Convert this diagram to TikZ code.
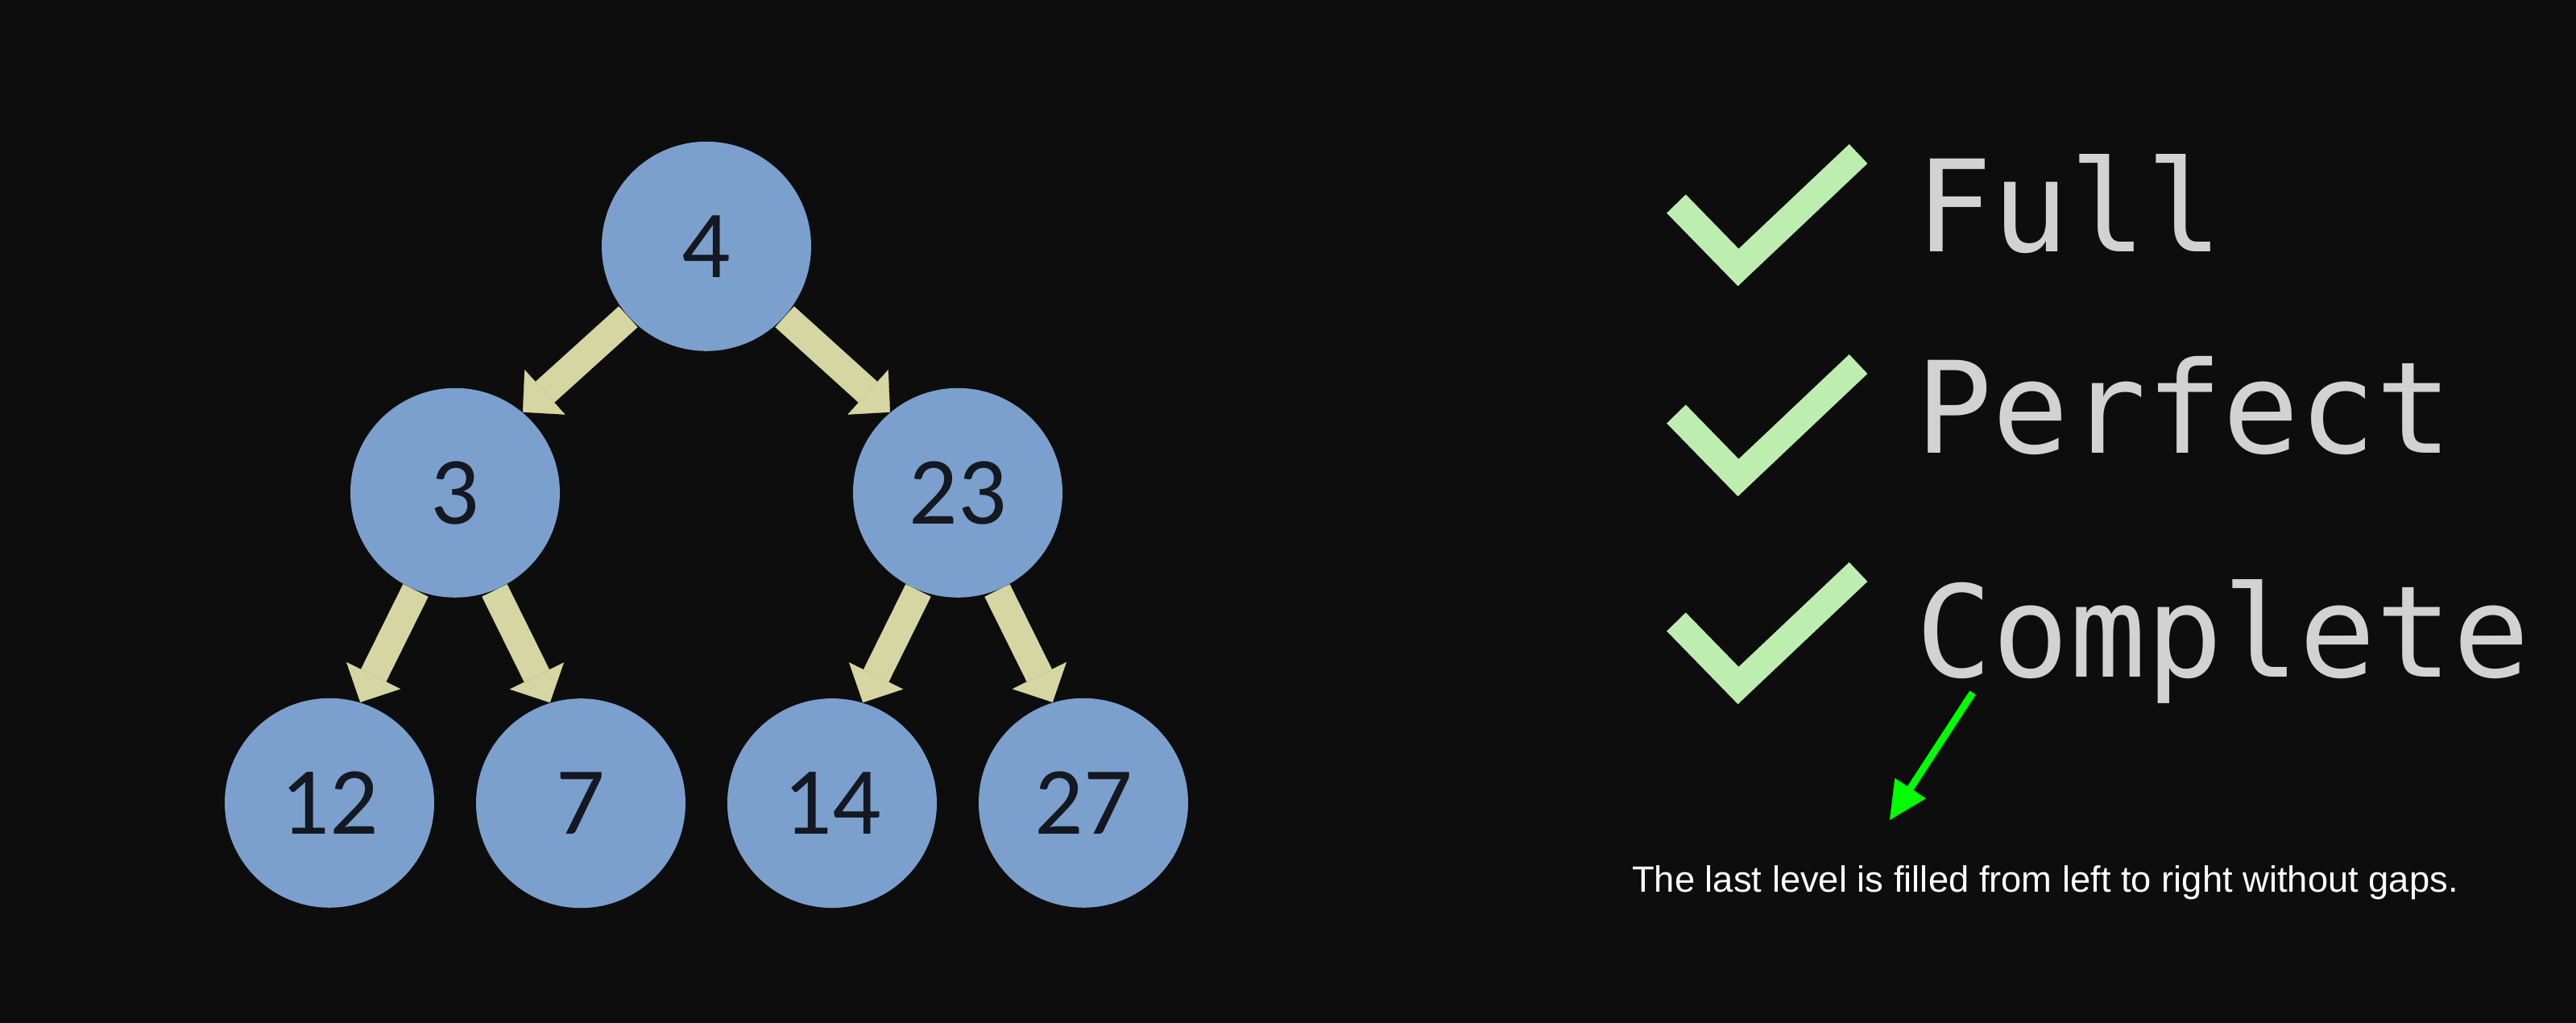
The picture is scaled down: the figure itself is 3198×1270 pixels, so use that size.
\documentclass[tikz,border=0pt]{standalone}
\usepackage{fontspec}
\usepackage{tikz}
\usetikzlibrary{matrix,arrows.meta}
\newfontfamily\numfont{Carlito}
\newfontfamily\lblfont{DejaVu Sans Mono}
\newfontfamily\notefont{Liberation Sans}
\definecolor{bgdark}{HTML}{0D0D0D}
\definecolor{nodeblue}{HTML}{7BA0CD}
\definecolor{nodeink}{HTML}{141820}
\definecolor{arrowtan}{HTML}{D6D6A3}
\definecolor{tickgreen}{HTML}{BDEEB0}
\definecolor{lblgray}{HTML}{D2D2D2}
\definecolor{ptrgreen}{HTML}{00FF00}
\tikzset{
  treenode/.style={circle, fill=nodeblue, minimum size=26mm, inner sep=0pt,
    text=nodeink, font=\numfont\fontsize{34}{34}\selectfont},
  treearrow/.style={-{Triangle[width=7.5mm,length=3.7mm,line width=0.1pt]}, line width=3.5mm, arrowtan},
  tickmark/.style={draw=tickgreen, line width=3.3mm},
  lbl/.style={anchor=base west, inner sep=0pt, text=lblgray,
    font=\lblfont\fontsize{45}{45}\selectfont},
  note/.style={anchor=base, inner sep=0pt, text=white,
    font=\notefont\fontsize{12.9}{12.9}\selectfont},
}

\begin{document}
\begin{tikzpicture}[x=0.1mm, y=-0.1mm, ampersand replacement=\&]
  \fill[bgdark] (0,0) rectangle (3198,1270);
  \useasboundingbox (0,0) rectangle (3198,1270);

  \matrix(m)[matrix of nodes, column sep=-10.4mm, row sep=4.6mm, nodes={treenode}] at (877,651.5)
  { \& \& \& 4 \& \& \& \\
    \& 3 \& \& \& \& 23 \& \\[7.9mm]
    12 \& \& 7 \& \& 14 \& \& 27 \\};
  \path[treearrow]
    (m-1-4.222) edge (m-2-2.50) (m-1-4.318) edge (m-2-6.130);
  \path[treearrow]
    (m-2-2.248) edge (m-3-1.73) (m-2-2.292) edge (m-3-3.107)
    (m-2-6.248) edge (m-3-5.73) (m-2-6.292) edge (m-3-7.107);

  % ticks and labels
  \draw[tickmark] (2081,253) -- ++(77,79) -- ++(149,-141);
  \draw[tickmark] (2081,514) -- ++(77,79) -- ++(149,-141);
  \draw[tickmark] (2081,772) -- ++(77,79) -- ++(149,-141);
  \node[lbl] (full) at (2378,313) {Full};
  \node[lbl] (perfect) at (2378,563) {Perfect};
  \node[lbl] (complete) at (2378,841) {Complete};

  \node[note] (note) at (2539,1108) {The last level is filled from left to right without gaps.};
  \coordinate (ptr) at (2449,860);
  \coordinate (ptrtip) at (2346,1018);
  \draw[-{Triangle[width=4.6mm,length=4.7mm,line width=0.1pt]}, line width=0.9mm, ptrgreen] (ptr) -- (ptrtip);
\end{tikzpicture}
\end{document}
